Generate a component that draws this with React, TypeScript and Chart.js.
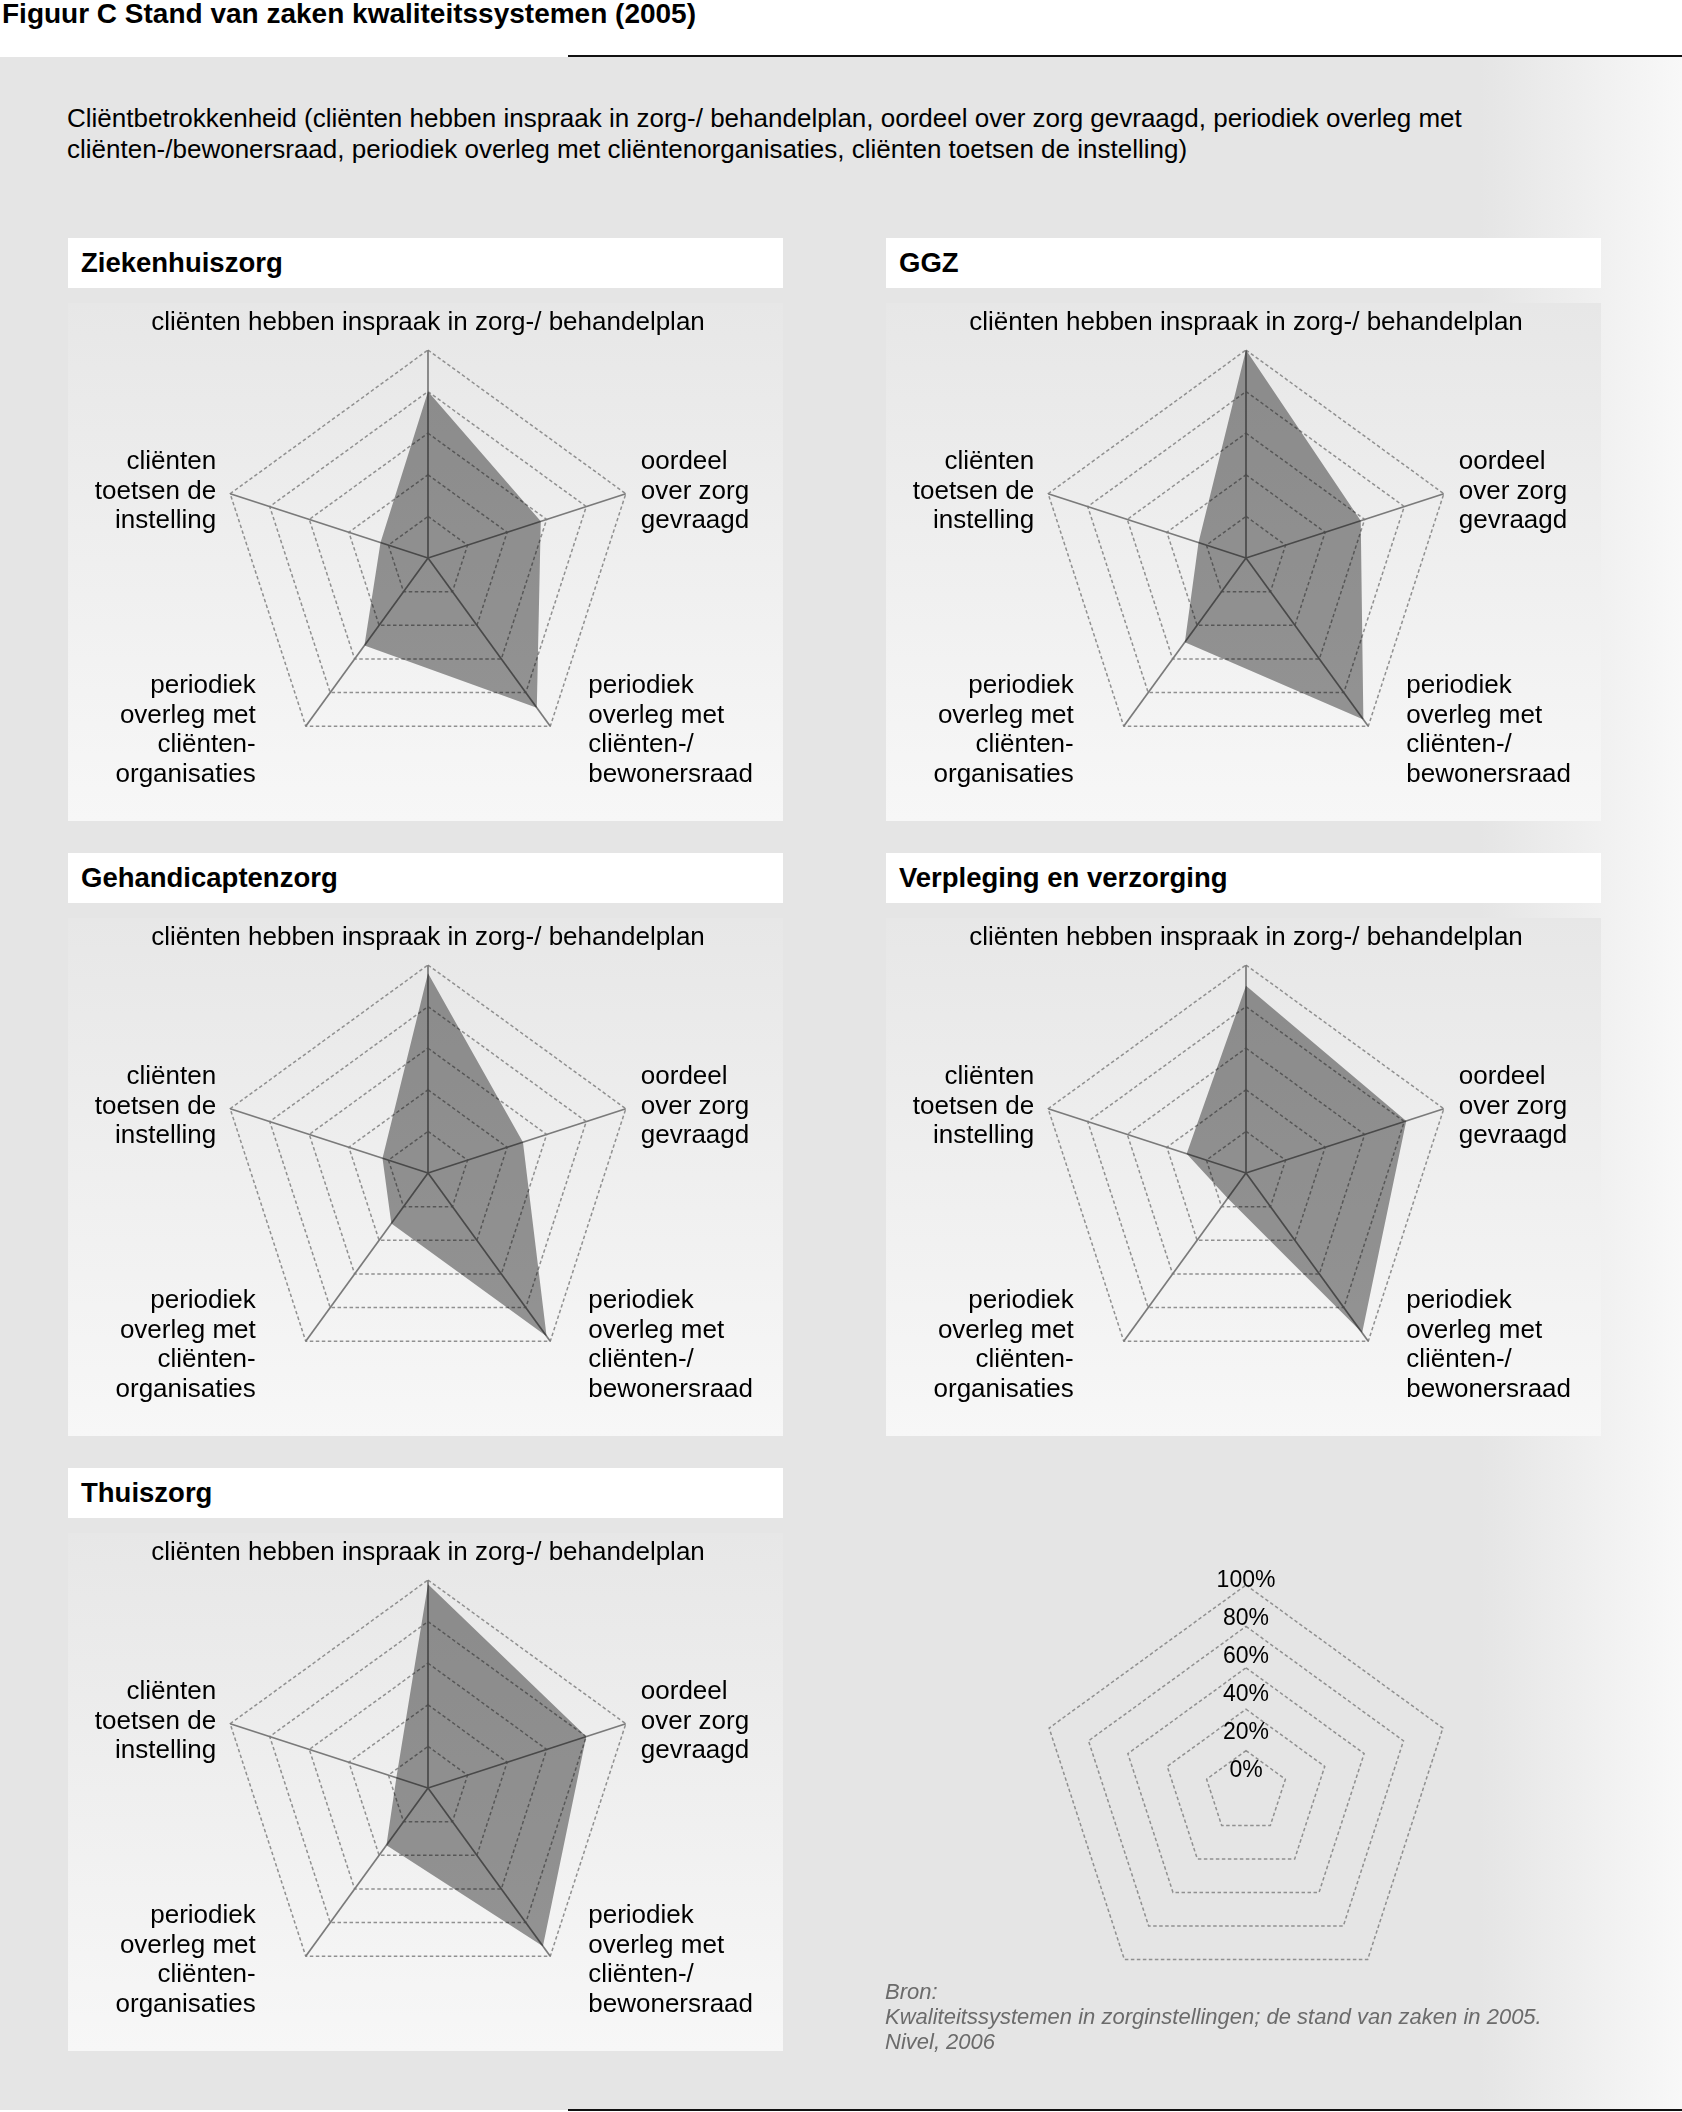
import React, { useEffect, useRef } from 'react';
import { Chart, registerables } from 'chart.js';

Chart.register(...registerables);

const FONT = '"Liberation Sans", Arial, Helvetica, sans-serif';

// ---- data ----
const figureTitle = 'Figuur C Stand van zaken kwaliteitssystemen (2005)';
const subtitleLines = [
  'Cliëntbetrokkenheid (cliënten hebben inspraak in zorg-/ behandelplan, oordeel over zorg gevraagd, periodiek overleg met',
  'cliënten-/bewonersraad, periodiek overleg met cliëntenorganisaties, cliënten toetsen de instelling)',
];
const axisLabels = [
  ['cliënten hebben inspraak in zorg-/ behandelplan'],
  ['oordeel', 'over zorg', 'gevraagd'],
  ['periodiek', 'overleg met', 'cliënten-/', 'bewonersraad'],
  ['periodiek', 'overleg met', 'cliënten-', 'organisaties'],
  ['cliënten', 'toetsen de', 'instelling'],
];
const panelTitles = ['Ziekenhuiszorg', 'GGZ', 'Gehandicaptenzorg', 'Verpleging en verzorging', 'Thuiszorg'];
const ziekenhuiszorg = [80, 57, 89, 52, 24];
const ggz = [100, 58, 96, 50, 24];
const gehandicaptenzorg = [96, 48, 97, 30, 23];
const verplegingVerzorging = [90, 81, 95, 15, 30];
const thuiszorg = [98, 80, 94, 34, 16];
const panelValues = [ziekenhuiszorg, ggz, gehandicaptenzorg, verplegingVerzorging, thuiszorg];
const scaleTickLabels = ['0%', '20%', '40%', '60%', '80%', '100%'];
const scaleMin = 0;
const scaleMax = 100;
const scaleStep = 20;
const sourceLines = [
  'Bron:',
  'Kwaliteitssystemen in zorginstellingen; de stand van zaken in 2005.',
  'Nivel, 2006',
];

// ---- layout / style ----
const panelSlots = [
  { left: 68, top: 238 },
  { left: 886, top: 238 },
  { left: 68, top: 853 },
  { left: 886, top: 853 },
  { left: 68, top: 1468 },
];
const PANEL_W = 715;
const HEADER_H = 50;
const BOX_OFFSET = 65;
const BOX_H = 518;
const LABEL_SIZE = 26;
const LABEL_LINE = 29.5;
const labelPlacement = [
  { align: 'center', dx: 0, dy: -27 },
  { align: 'left', dx: 15, dy: -2 },
  { align: 'left', dx: 38, dy: 4 },
  { align: 'right', dx: -50, dy: 4 },
  { align: 'right', dx: -14, dy: -2 },
];
const DASH = [3.5, 2.5];
const GRID_COLOR = '#909090';
const ANGLE_COLOR = '#7a7a7a';
const FILL_COLOR = 'rgba(0,0,0,0.40)';

const axisLabelPlugin = {
  id: 'axisLabels',
  afterDraw(chart: any) {
    const scale = chart.scales.r;
    const ctx = chart.ctx;
    ctx.save();
    ctx.font = `${LABEL_SIZE}px ${FONT}`;
    ctx.fillStyle = '#000000';
    ctx.textBaseline = 'middle';
    (chart.data.labels as any[]).forEach((lab, i) => {
      const p = scale.getPointPosition(i, scale.drawingArea);
      const place = labelPlacement[i];
      const lines = Array.isArray(lab) ? lab : [lab];
      const n = lines.length;
      ctx.textAlign = place.align;
      lines.forEach((line: string, k: number) => {
        ctx.fillText(line, p.x + place.dx, p.y + place.dy + (k - (n - 1) / 2) * LABEL_LINE);
      });
    });
    ctx.restore();
  },
};

function RadarPanel({ title, values, left, top }: { title: string; values: number[]; left: number; top: number }) {
  const ref = useRef<HTMLCanvasElement>(null);
  useEffect(() => {
    if (!ref.current) return;
    const chart = new Chart(ref.current, {
      type: 'radar',
      data: {
        labels: axisLabels as any,
        datasets: [
          {
            data: values,
            backgroundColor: FILL_COLOR,
            borderWidth: 0,
            pointRadius: 0,
            fill: 'origin',
          },
        ],
      },
      options: {
        responsive: false,
        animation: false,
        events: [],
        layout: { padding: { left: 100, right: 95, top: 47, bottom: 55 } },
        plugins: { legend: { display: false }, tooltip: { enabled: false } },
        scales: {
          r: {
            min: scaleMin,
            max: scaleMax,
            ticks: { display: false, stepSize: scaleStep },
            grid: { color: GRID_COLOR, lineWidth: 1.5, borderDash: DASH } as any,
            border: { dash: DASH } as any,
            angleLines: { color: ANGLE_COLOR, lineWidth: 1.7 },
            pointLabels: { display: false },
          },
        },
      } as any,
      plugins: [axisLabelPlugin as any],
    });
    return () => chart.destroy();
  }, [values]);
  return (
    <div style={{ position: 'absolute', left, top, width: PANEL_W }}>
      <div
        style={{
          height: HEADER_H,
          background: '#ffffff',
          fontWeight: 'bold',
          fontSize: 27.5,
          lineHeight: `${HEADER_H}px`,
          paddingLeft: 13,
          color: '#000',
        }}
      >
        {title}
      </div>
      <div
        style={{
          position: 'absolute',
          left: 0,
          top: BOX_OFFSET,
          width: PANEL_W,
          height: BOX_H,
          background: 'linear-gradient(to bottom, #e7e7e7, #f7f7f7)',
        }}
      >
        <canvas ref={ref} width={PANEL_W} height={BOX_H} style={{ display: 'block' }} />
      </div>
    </div>
  );
}

function ScaleLegend({ cx, cy }: { cx: number; cy: number }) {
  const ringRef = useRef<HTMLCanvasElement>(null);
  const labelRef = useRef<HTMLCanvasElement>(null);
  useEffect(() => {
    if (!ringRef.current || !labelRef.current) return;
    const rings = new Chart(ringRef.current, {
      type: 'radar',
      data: { labels: axisLabels as any, datasets: [] },
      options: {
        responsive: false,
        animation: false,
        events: [],
        layout: { padding: 13 },
        plugins: { legend: { display: false }, tooltip: { enabled: false } },
        scales: {
          r: {
            min: scaleMin,
            max: scaleMax,
            ticks: { display: false, stepSize: scaleStep },
            grid: { color: GRID_COLOR, lineWidth: 1.5, borderDash: DASH } as any,
            border: { dash: DASH } as any,
            angleLines: { display: false },
            pointLabels: { display: false },
          },
        },
      } as any,
    });
    // tick labels: a second radial scale whose 0..100 run is set by its own min
    const labels = new Chart(labelRef.current, {
      type: 'radar',
      data: { labels: axisLabels as any, datasets: [] },
      options: {
        responsive: false,
        animation: false,
        events: [],
        plugins: { legend: { display: false }, tooltip: { enabled: false } },
        scales: {
          r: {
            min: -11.2,
            max: scaleMax,
            ticks: {
              display: true,
              stepSize: scaleStep,
              includeBounds: false,
              showLabelBackdrop: false,
              color: '#000000',
              font: { family: FONT, size: 23 },
              callback: (_v: any, i: number) => scaleTickLabels[i],
            },
            grid: { display: false },
            angleLines: { display: false },
            pointLabels: { display: false },
          },
        },
      } as any,
    });
    return () => {
      rings.destroy();
      labels.destroy();
    };
  }, []);
  return (
    <>
      <canvas
        ref={ringRef}
        width={440}
        height={440}
        style={{ position: 'absolute', left: cx - 220, top: cy - 220, display: 'block' }}
      />
      <canvas
        ref={labelRef}
        width={450}
        height={450}
        style={{ position: 'absolute', left: cx - 225, top: cy - 225, display: 'block' }}
      />
    </>
  );
}

export default function App() {
  return (
    <div
      style={{
        position: 'absolute',
        left: 0,
        top: 0,
        width: 1682,
        height: 2112,
        overflow: 'hidden',
        background: '#ffffff',
        fontFamily: FONT,
        color: '#000',
      }}
    >
      <div
        style={{
          position: 'absolute',
          left: 0,
          top: 57,
          width: 1682,
          height: 2053,
          background: 'linear-gradient(to right, #e5e5e5 0px, #e5e5e5 1480px, #f8f8f8 1682px)',
        }}
      />
      <div style={{ position: 'absolute', left: 568, top: 55, width: 1114, height: 2, background: '#111' }} />
      <div style={{ position: 'absolute', left: 568, top: 2109, width: 1114, height: 2, background: '#111' }} />
      <div
        style={{
          position: 'absolute',
          left: 2,
          top: 0,
          fontWeight: 'bold',
          fontSize: 28,
          lineHeight: '27px',
          whiteSpace: 'nowrap',
          color: '#000',
        }}
      >
        {figureTitle}
      </div>
      <div
        style={{
          position: 'absolute',
          left: 67,
          top: 103,
          fontSize: 26,
          lineHeight: '31px',
          whiteSpace: 'nowrap',
        }}
      >
        {subtitleLines.map((l, i) => (
          <div key={i}>{l}</div>
        ))}
      </div>
      {panelTitles.map((t, i) => (
        <RadarPanel key={t} title={t} values={panelValues[i]} left={panelSlots[i].left} top={panelSlots[i].top} />
      ))}
      <ScaleLegend cx={1246} cy={1792} />
      <div
        style={{
          position: 'absolute',
          left: 885,
          top: 1979,
          fontSize: 22,
          lineHeight: '25px',
          fontStyle: 'italic',
          color: '#6b6b6b',
          whiteSpace: 'nowrap',
        }}
      >
        {sourceLines.map((l, i) => (
          <div key={i}>{l}</div>
        ))}
      </div>
    </div>
  );
}
